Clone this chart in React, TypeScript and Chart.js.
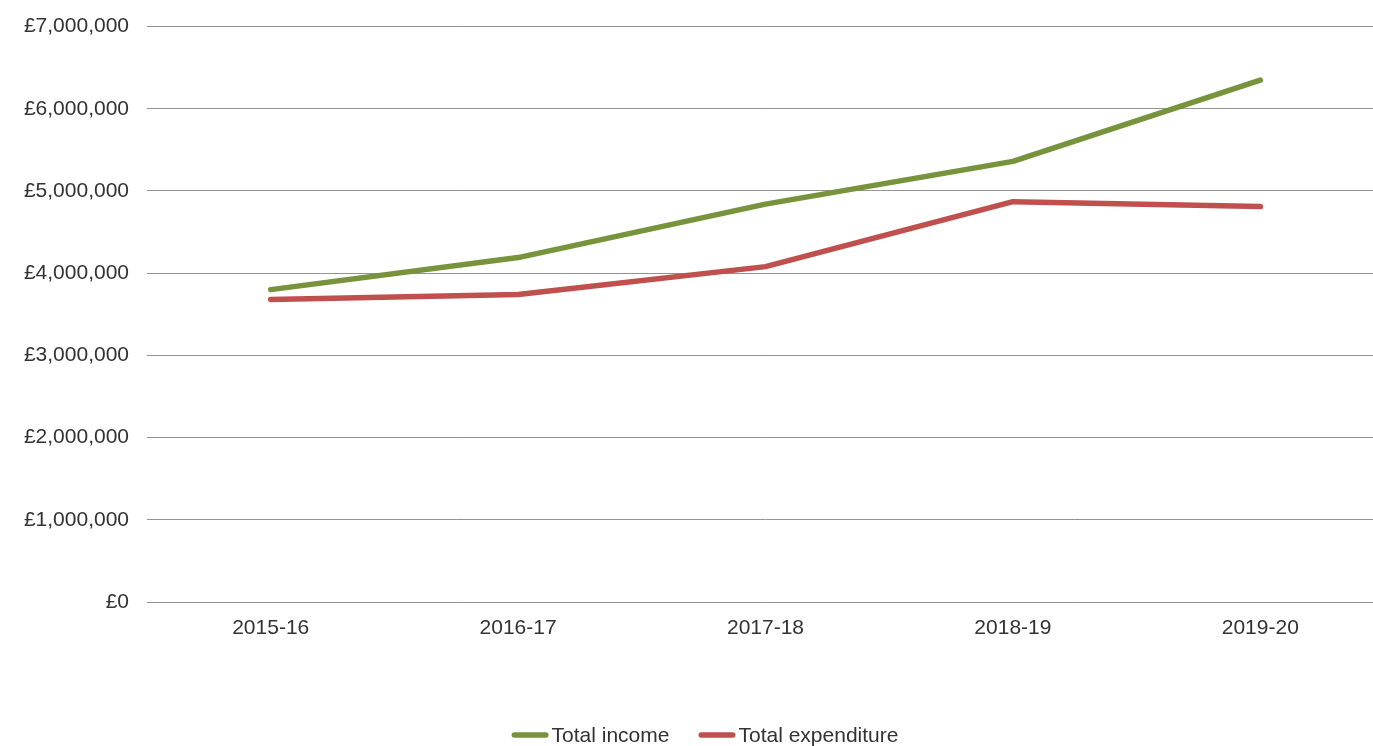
import React, { useEffect, useRef } from "react";
import { Chart, registerables } from "chart.js";

Chart.register(...registerables);

const categories = ["2015-16", "2016-17", "2017-18", "2018-19", "2019-20"];
const totalIncome = [3800000, 4190000, 4840000, 5360000, 6350000];
const totalExpenditure = [3680000, 3740000, 4080000, 4870000, 4810000];
const yMin = 0;
const yMax = 7000000;
const yStep = 1000000;

const FONT = "'Liberation Sans', Arial, sans-serif";
const TEXT_COLOR = "#333333";

const legendPlugin = {
  id: "customLegend",
  afterDraw(chart: any) {
    const ctx = chart.ctx as CanvasRenderingContext2D;
    const datasets = chart.data.datasets;
    ctx.save();
    ctx.font = `21px ${FONT}`;
    ctx.textBaseline = "middle";
    ctx.textAlign = "left";
    const swatch = 37;
    const gapText = 3;
    const gapItem = 29;
    const widths = datasets.map((d: any) => swatch + gapText + ctx.measureText(d.label).width);
    const total = widths.reduce((a: number, b: number) => a + b, 0) + gapItem * (datasets.length - 1);
    const centerX = 705;
    const y = chart.height - 11;
    let x = centerX - total / 2;
    datasets.forEach((d: any, i: number) => {
      ctx.strokeStyle = d.borderColor;
      ctx.lineWidth = 5.5;
      ctx.lineCap = "round";
      ctx.beginPath();
      ctx.moveTo(x + 2.75, y);
      ctx.lineTo(x + swatch - 2.75, y);
      ctx.stroke();
      ctx.fillStyle = TEXT_COLOR;
      ctx.fillText(d.label, x + swatch + gapText, y + 1);
      x += widths[i] + gapItem;
    });
    ctx.restore();
  },
};

export default function App() {
  const ref = useRef<HTMLCanvasElement | null>(null);

  useEffect(() => {
    document.documentElement.style.overflow = "hidden";
    document.body.style.overflow = "hidden";
    if (!ref.current) return;
    const chart = new Chart(ref.current, {
      type: "line",
      data: {
        labels: categories,
        datasets: [
          {
            label: "Total income",
            data: totalIncome,
            borderColor: "#77933C",
            backgroundColor: "#77933C",
            borderWidth: 5.5,
            borderCapStyle: "round",
            borderJoinStyle: "round",
            pointRadius: 0,
            tension: 0,
          },
          {
            label: "Total expenditure",
            data: totalExpenditure,
            borderColor: "#C0504D",
            backgroundColor: "#C0504D",
            borderWidth: 5.5,
            borderCapStyle: "round",
            borderJoinStyle: "round",
            pointRadius: 0,
            tension: 0,
          },
        ],
      },
      plugins: [legendPlugin],
      options: {
        animation: false,
        responsive: true,
        maintainAspectRatio: false,
        layout: { padding: { top: 12, left: 0, right: 0, bottom: 54 } },
        plugins: {
          tooltip: { enabled: false },
          legend: { display: false },
        },
        scales: {
          x: {
            offset: true,
            grid: { display: false, drawTicks: false, offset: true },
            border: { display: false },
            ticks: {
              color: TEXT_COLOR,
              font: { family: FONT, size: 21 },
              padding: 14,
              maxRotation: 0,
            },
            afterFit: (scale: any) => {
              scale.height = 90;
            },
          },
          y: {
            min: yMin,
            max: yMax,
            grid: { color: "#939393", lineWidth: 1, drawTicks: false },
            border: { display: false },
            ticks: {
              stepSize: yStep,
              color: TEXT_COLOR,
              font: { family: FONT, size: 21 },
              padding: 18,
              callback: (v: any) => "£" + Number(v).toLocaleString("en-GB"),
            },
            afterFit: (scale: any) => {
              scale.width = 147;
            },
          },
        },
      },
    });
    return () => chart.destroy();
  }, []);

  return (
    <div style={{ position: "fixed", left: 0, top: 0, width: 1373, height: 746, overflow: "hidden", background: "#fff" }}>
      <div style={{ position: "relative", top: -4, width: 1384, height: 750 }}>
        <canvas ref={ref} />
      </div>
    </div>
  );
}
